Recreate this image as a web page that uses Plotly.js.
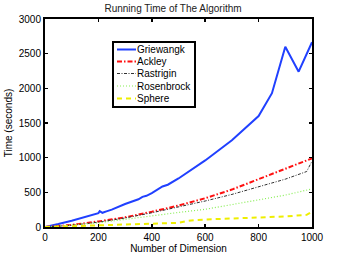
<!DOCTYPE html>
<html><head><meta charset="utf-8">
<script src="https://cdn.plot.ly/plotly-3.0.1.min.js"></script>
<style>html,body{margin:0;padding:0;background:#fff}#c{width:346px;height:256px}</style>
</head><body><div id="c"></div>
<script>
const griewX = [0, 20, 50, 100, 150, 190, 200, 205, 215, 230, 250, 300, 350, 365, 380, 400, 430, 440, 460, 500, 600, 700, 800, 850, 900, 950, 1000];
const griewY = [0, 15, 43, 91, 144, 185, 200, 228, 205, 225, 250, 332, 400, 435, 450, 490, 555, 585, 610, 700, 960, 1250, 1600, 1930, 2600, 2240, 2665];
const dimX = [0, 100, 200, 300, 400, 500, 600, 700, 800, 900, 980, 1000];
const ackleyY = [0, 30, 80, 140, 220, 310, 415, 540, 690, 840, 960, 990];
const rastriginY = [0, 25, 70, 130, 205, 285, 375, 470, 580, 690, 800, 950];
const rosenX = [0, 100, 200, 300, 400, 500, 600, 700, 800, 900, 1000];
const rosenY = [0, 25, 60, 110, 165, 210, 255, 320, 390, 460, 550];
const sphereX = [0, 100, 200, 300, 400, 500, 530, 560, 600, 700, 800, 900, 980, 1000];
const sphereY = [0, 10, 25, 35, 45, 60, 85, 100, 108, 122, 140, 152, 175, 220];
const names = ["Griewangk", "Ackley", "Rastrigin", "Rosenbrock", "Sphere"];
const xTicks = [0, 200, 400, 600, 800, 1000];
const yTicks = [0, 500, 1000, 1500, 2000, 2500, 3000];

const styles = [
  {color: "#2040ff", width: 2, dash: "solid"},
  {color: "#ff1010", width: 2, dash: "5px,2px,1.5px,2px"},
  {color: "#303030", width: 1, dash: "3px,1.5px,1px,1.5px"},
  {color: "#88ee55", width: 1.2, dash: "1px,2px"},
  {color: "#eeee00", width: 2, dash: "5px,4px"}
];
const xs = [griewX, dimX, dimX, rosenX, sphereX];
const ys = [griewY, ackleyY, rastriginY, rosenY, sphereY];
const traces = names.map((n, i) => ({x: xs[i], y: ys[i], name: n, mode: "lines", line: styles[i], showlegend: false}));

const fam = "Liberation Sans, Arial, sans-serif";
const fnt = {family: fam, size: 10, color: "#000"};
const axisCommon = {
  showgrid: false, zeroline: false, showline: true, linecolor: "#000", linewidth: 2,
  mirror: "ticks", ticks: "inside", ticklen: 3, tickwidth: 1.5, tickcolor: "#000",
  tickfont: fnt
};
// custom compact legend (paper coordinates)
const plotL = 45, plotT = 19, plotW = 267, plotH = 208;
const px = v => (v - plotL) / plotW;
const py = v => (plotT + plotH - v) / plotH;
const legRows = [49.5, 61.5, 73.5, 86, 98.5];
const shapes = [{type: "rect", xref: "paper", yref: "paper", x0: px(113), x1: px(195), y0: py(107), y1: py(42),
  line: {color: "#000", width: 2}, fillcolor: "#fff", layer: "above"}];
const annotations = [];
names.forEach((n, i) => {
  shapes.push({type: "line", xref: "paper", yref: "paper", x0: px(117), x1: px(136), y0: py(legRows[i]), y1: py(legRows[i]),
    line: styles[i], layer: "above"});
  annotations.push({text: n, xref: "paper", yref: "paper", x: px(136), y: py(legRows[i]), xanchor: "left", yanchor: "middle",
    showarrow: false, borderpad: 0, font: {family: fam, size: 10, color: "#000"}});
});

const layout = {
  width: 346, height: 256,
  margin: {l: 45, r: 34, t: 19, b: 29},
  paper_bgcolor: "#fff", plot_bgcolor: "#fff",
  font: fnt,
  title: {text: "Running Time of The Algorithm", font: {family: fam, size: 10, color: "#222"}, x: 0.5, xanchor: "center", y: 0.965, yanchor: "middle"},
  xaxis: Object.assign({}, axisCommon, {range: [0, 1000], tickvals: xTicks, ticktext: xTicks.map(String),
    title: {text: "Number of Dimension", font: fnt, standoff: 2}}),
  yaxis: Object.assign({}, axisCommon, {range: [0, 3000], tickvals: yTicks, ticktext: yTicks.map(String),
    title: {text: "Time (seconds)", font: fnt, standoff: 4}}),
  shapes: shapes,
  annotations: annotations,
  showlegend: false
};
Plotly.newPlot("c", traces, layout, {displayModeBar: false, staticPlot: true});
</script>
</body></html>
